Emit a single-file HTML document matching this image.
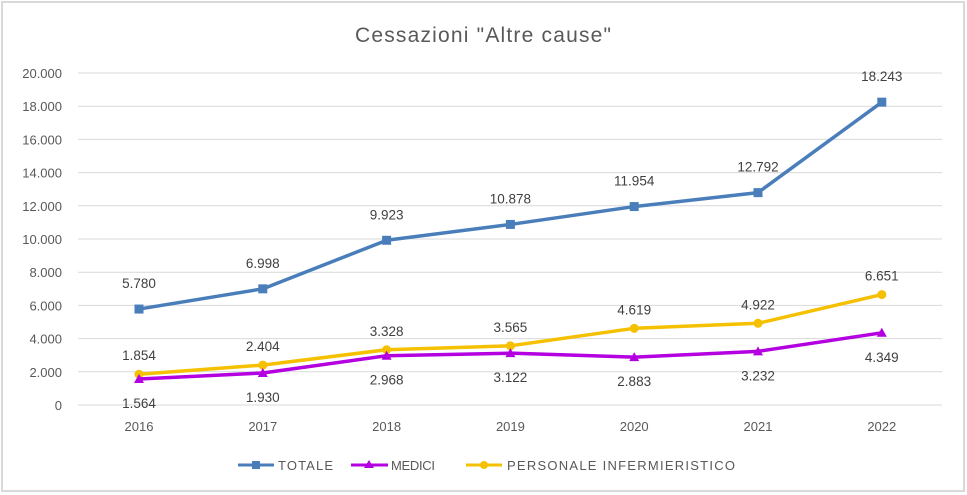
<!DOCTYPE html>
<html><head><meta charset="utf-8"><style>
body{margin:0;background:#fff;}
svg{display:block;font-family:"Liberation Sans",sans-serif;}
</style></head><body>
<svg id="c" width="967" height="495">
<rect x="2" y="2" width="962" height="489" fill="#fff" stroke="#d9d9d9" stroke-width="2"/>
<text x="483" y="42" text-anchor="middle" font-size="21" fill="#595959" textLength="256">Cessazioni "Altre cause"</text>
<g id="grid"></g><g id="series"></g>
<g font-size="13" fill="#595959">
<g><line x1="238" y1="465" x2="274" y2="465" stroke="#4a7ebb" stroke-width="3"/><rect x="252" y="461" width="8" height="8" fill="#4a7ebb"/><text x="278" y="470" textLength="55">TOTALE</text></g>
<g><line x1="351" y1="465" x2="388" y2="465" stroke="#b400e0" stroke-width="3"/><polygon points="369,460 374,468 364,468" fill="#b400e0"/><text x="391" y="470" textLength="44">MEDICI</text></g>
<g><line x1="466" y1="465" x2="502" y2="465" stroke="#f5c000" stroke-width="3"/><circle cx="484" cy="465" r="4" fill="#f5c000"/><text x="507" y="470" textLength="228">PERSONALE INFERMIERISTICO</text></g>
</g>
</svg>
<script>
const years=["2016","2017","2018","2019","2020","2021","2022"];
const totale=[5780,6998,9923,10878,11954,12792,18243];
const medici=[1564,1930,2968,3122,2883,3232,4349];
const personale=[1854,2404,3328,3565,4619,4922,6651];
const yTicks=[0,2000,4000,6000,8000,10000,12000,14000,16000,18000,20000];
const NS="http://www.w3.org/2000/svg";
const x=i=>139+i*123.8;
const y=v=>405-v*(332/20000);
const fmt=v=>v.toLocaleString('de-DE');
function mk(t,a,p){const e=document.createElementNS(NS,t);for(const k in a)e.setAttribute(k,a[k]);p.appendChild(e);return e;}
const g=document.getElementById('grid');
yTicks.forEach(v=>{
 const l=mk('line',{x1:78,x2:942,y1:y(v),y2:y(v),stroke:'#d9d9d9','stroke-width':1},g);
 
 
 const t=mk('text',{x:62,y:y(v)+5,'text-anchor':'end','font-size':13,fill:'#595959'},g);
 t.textContent=fmt(v);
 
 
});
years.forEach((yr,i)=>{
 const t=mk('text',{x:x(i),y:431,'text-anchor':'middle','font-size':13,fill:'#595959'},g);
 t.textContent=yr;
 
 
});
const s=document.getElementById('series');
function draw(data,color,marker,name,off){
 const p=mk('polyline',{points:data.map((v,i)=>x(i)+','+y(v)).join(' '),fill:'none',stroke:color,'stroke-width':3.5,'stroke-linejoin':'round'},s);
 
 
 data.forEach((v,i)=>{
  const cx=x(i),cy=y(v);let m;
  if(marker==='sq')m=mk('rect',{x:cx-4.5,y:cy-4.5,width:9,height:9,fill:color},s);
  else if(marker==='tri')m=mk('polygon',{points:`${cx},${cy-5} ${cx+5},${cy+4} ${cx-5},${cy+4}`,fill:color},s);
  else m=mk('circle',{cx:cx,cy:cy,r:4.5,fill:color},s);
  
  
  const t=mk('text',{x:cx,y:cy+off,'text-anchor':'middle','font-size':13.5,fill:'#404040'},s);
  t.textContent=fmt(v);
  
  
 });
}
draw(personale,'#f5c000','circ','personale',-14);
draw(medici,'#b400e0','tri','medici',29);
draw(totale,'#4a7ebb','sq','totale',-21);
</script>
</body></html>
